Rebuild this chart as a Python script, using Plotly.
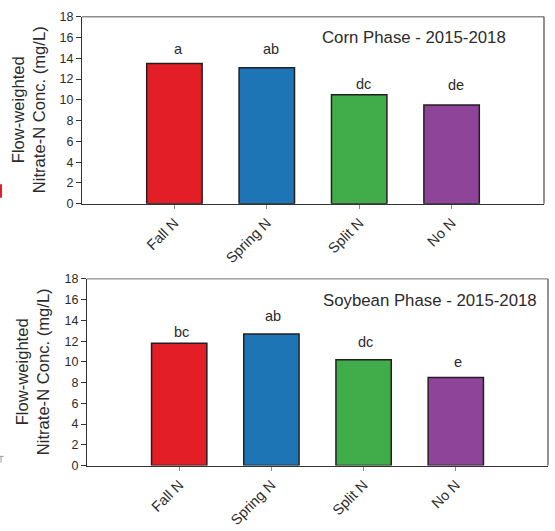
import plotly.graph_objects as go

# Treatments and flow-weighted nitrate-N concentrations (mg/L)
treatments = ["Fall N", "Spring N", "Split N", "No N"]
corn_values = [13.5, 13.1, 10.5, 9.5]
soy_values = [11.8, 12.7, 10.2, 8.5]

# Mean-separation letters and the heights they sit at
corn_letters = ["a", "ab", "dc", "de"]
corn_letter_y = [14.9, 14.9, 11.5, 11.4]
soy_letters = ["bc", "ab", "dc", "e"]
soy_letter_y = [12.85, 14.45, 11.87, 9.96]

bar_colors = ["#E31E26", "#1D75B5", "#40AD4A", "#8E4498"]
y_ticks = list(range(0, 19, 2))

W, H = 555, 531
FONT = "Liberation Sans, Arial, sans-serif"
TXT = "#2b2b2b"


def px_x(p):
    return p / W


def px_y(p):
    return 1 - p / H


fig = go.Figure()

panels = [
    dict(vals=corn_values, letters=corn_letters, ly=corn_letter_y,
         title="Corn Phase - 2015-2018", xdom=(82, 544), ydom=(10, 202),
         title_right=508, title_y=31, ytitle_x=29, lshift=4, ax=""),
    dict(vals=soy_values, letters=soy_letters, ly=soy_letter_y,
         title="Soybean Phase - 2015-2018", xdom=(87, 548), ydom=(279.3, 471),
         title_right=539, title_y=301, ytitle_x=33, lshift=2, ax="2"),
]

layout = dict(
    width=W, height=H,
    margin=dict(l=0, r=0, t=0, b=0),
    paper_bgcolor="white", plot_bgcolor="white",
    showlegend=False,
    font=dict(family=FONT, color=TXT),
    bargap=0.4,
)
annotations = []
shapes = []

for p in panels:
    ax = p["ax"]
    xa, ya = "x" + ax, "y" + ax
    fig.add_trace(go.Bar(
        x=treatments, y=p["vals"], xaxis=xa, yaxis=ya,
        marker=dict(color=bar_colors, line=dict(color="#231f20", width=1.5)),
        width=0.6, hoverinfo="x+y",
    ))
    layout["xaxis" + ax] = dict(
        domain=[px_x(p["xdom"][0]), px_x(p["xdom"][1])],
        anchor=ya, type="category", categoryorder="array", categoryarray=treatments,
        range=[-1, 4], showgrid=False, zeroline=False,
        showline=True, linecolor="#333333", linewidth=1.3,
        ticks="outside", ticklen=4, tickcolor="#8a8a8a", tickwidth=1,
        tickangle=-45, tickfont=dict(size=14.5, color=TXT, family=FONT),
        fixedrange=True,
    )
    layout["yaxis" + ax] = dict(
        domain=[px_y(p["ydom"][1]), px_y(p["ydom"][0])],
        anchor=xa, range=[0, 18], tickvals=y_ticks,
        showgrid=False, zeroline=False,
        showline=True, linecolor="#333333", linewidth=1.3,
        ticks="outside", ticklen=5, tickcolor="#333333", tickwidth=1,
        tickfont=dict(size=12.5, color=TXT, family=FONT),
        fixedrange=True,
    )
    # top and right frame lines
    shapes.append(dict(type="line", xref=xa + " domain", yref=ya + " domain",
                       x0=0, x1=1, y0=1, y1=1, line=dict(color="#8c8c8c", width=1.3)))
    shapes.append(dict(type="line", xref=xa + " domain", yref=ya + " domain",
                       x0=1, x1=1, y0=0, y1=1, line=dict(color="#555555", width=1.3)))
    # significance letters
    for t, lt, yy in zip(treatments, p["letters"], p["ly"]):
        annotations.append(dict(x=t, y=yy, xref=xa, yref=ya, text=lt,
                                showarrow=False, xanchor="center", yanchor="middle",
                                xshift=p["lshift"],
                                font=dict(size=14.5, color=TXT, family=FONT)))
    # panel title
    annotations.append(dict(x=px_x(p["title_right"]), y=px_y(p["title_y"]),
                            xref="paper", yref="paper", text=p["title"],
                            showarrow=False, xanchor="right", yanchor="middle",
                            font=dict(size=16.8, color=TXT, family=FONT)))
    # y-axis title
    yc = (p["ydom"][0] + p["ydom"][1]) / 2
    annotations.append(dict(x=px_x(p["ytitle_x"]), y=px_y(yc),
                            xref="paper", yref="paper",
                            text="Flow-weighted<br>Nitrate-N Conc. (mg/L)",
                            textangle=-90, showarrow=False,
                            xanchor="center", yanchor="middle",
                            font=dict(size=16.6, color=TXT, family=FONT)))

# small marks at the left page edge
shapes.append(dict(type="line", xref="paper", yref="paper",
                   x0=px_x(1), x1=px_x(1), y0=px_y(182), y1=px_y(196),
                   line=dict(color="#E31E26", width=2)))
shapes.append(dict(type="line", xref="paper", yref="paper",
                   x0=px_x(0), x1=px_x(3.5), y0=px_y(461.5), y1=px_y(461.5),
                   line=dict(color="#999999", width=1)))
shapes.append(dict(type="line", xref="paper", yref="paper",
                   x0=px_x(1), x1=px_x(1), y0=px_y(461.5), y1=px_y(468),
                   line=dict(color="#999999", width=1)))

layout["annotations"] = annotations
layout["shapes"] = shapes
fig.update_layout(**layout)

fig.write_html("out.html")
